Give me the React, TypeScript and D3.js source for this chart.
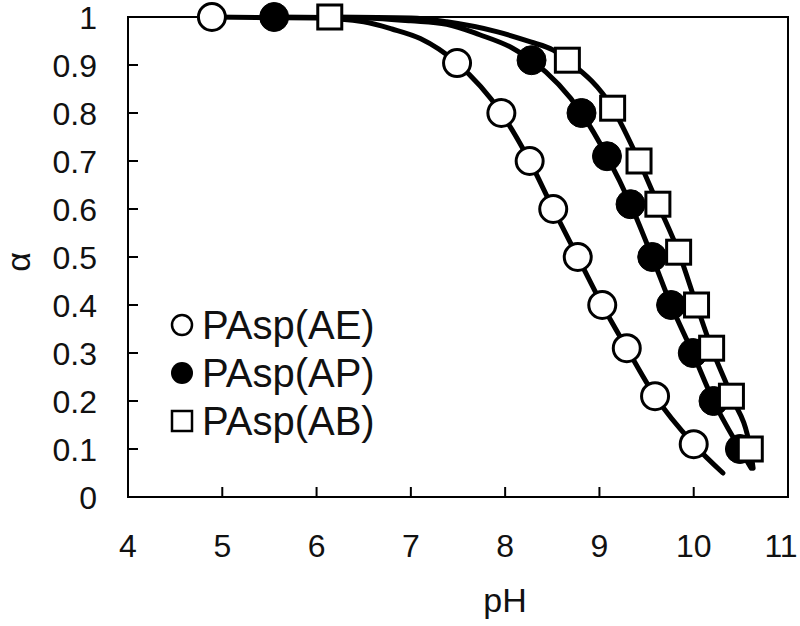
import React from "react";
import * as d3 from "d3";

// Measured points (pH, alpha)
const aePH = [4.89, 7.49, 7.96, 8.26, 8.51, 8.77, 9.03, 9.29, 9.59, 10.0];
const aeAlpha = [1.0, 0.904, 0.8, 0.7, 0.6, 0.5, 0.4, 0.31, 0.21, 0.11];
const apPH = [5.55, 8.28, 8.81, 9.08, 9.33, 9.56, 9.76, 9.99, 10.21, 10.49];
const apAlpha = [1.0, 0.91, 0.8, 0.71, 0.61, 0.5, 0.4, 0.3, 0.2, 0.1];
const abPH = [6.14, 8.66, 9.14, 9.42, 9.62, 9.84, 10.03, 10.19, 10.4, 10.6];
const abAlpha = [1.0, 0.91, 0.81, 0.7, 0.61, 0.51, 0.4, 0.31, 0.21, 0.1];

// Fitted curves
const aeCurvePH = [4.89, 6.0, 6.5, 6.8, 7.1, 7.49, 7.96, 8.26, 8.51, 8.77, 9.03, 9.29, 9.59, 10.0, 10.31];
const aeCurveAlpha = [1.0, 0.998, 0.99, 0.975, 0.955, 0.904, 0.8, 0.7, 0.6, 0.5, 0.4, 0.31, 0.21, 0.11, 0.05];
const apCurvePH = [5.55, 6.5, 7.0, 7.38, 7.73, 8.08, 8.28, 8.81, 9.08, 9.33, 9.56, 9.76, 9.99, 10.21, 10.49, 10.61];
const apCurveAlpha = [1.0, 0.998, 0.992, 0.985, 0.963, 0.935, 0.91, 0.8, 0.71, 0.61, 0.5, 0.4, 0.3, 0.2, 0.1, 0.06];
const abCurvePH = [6.14, 7.0, 7.38, 7.92, 8.27, 8.51, 8.66, 9.14, 9.42, 9.62, 9.84, 10.03, 10.19, 10.4, 10.6, 10.63];
const abCurveAlpha = [1.0, 0.998, 0.99, 0.969, 0.948, 0.931, 0.91, 0.81, 0.7, 0.61, 0.51, 0.4, 0.31, 0.21, 0.1, 0.06];

const xTicks = [4, 5, 6, 7, 8, 9, 10, 11];
const yTicks = [0, 0.1, 0.2, 0.3, 0.4, 0.5, 0.6, 0.7, 0.8, 0.9, 1];
const legendLabels = ["PAsp(AE)", "PAsp(AP)", "PAsp(AB)"];

const FONT = "'Liberation Sans', Arial, sans-serif";

export default function App() {
  const W = 800, H = 626;
  const L = 128, R = 788, T = 17, B = 497;
  const x = d3.scaleLinear().domain([4, 11]).range([L, R]);
  const y = d3.scaleLinear().domain([0, 1]).range([B, T]);

  const line = d3
    .line<[number, number]>()
    .x((d) => x(d[0]))
    .y((d) => y(d[1]))
    .curve(d3.curveMonotoneX);

  const zip = (a: number[], b: number[]) => a.map((v, i) => [v, b[i]] as [number, number]);

  const curves = [
    zip(aeCurvePH, aeCurveAlpha),
    zip(apCurvePH, apCurveAlpha),
    zip(abCurvePH, abCurveAlpha),
  ];
  const ae = zip(aePH, aeAlpha);
  const ap = zip(apPH, apAlpha);
  const ab = zip(abPH, abAlpha);

  const r = 13.5;
  const sq = 24;

  return (
    <svg width={W} height={H} style={{ display: "block", position: "absolute", left: 0, top: 0, background: "#fff" }}>
      <rect x={0} y={0} width={W} height={H} fill="#fff" />
      {/* frame */}
      <rect x={L} y={T} width={R - L} height={B - T} fill="none" stroke="#000" strokeWidth={2} />
      {/* ticks */}
      {yTicks.filter((t) => t > 0 && t < 1).map((t) => (
        <line key={"yt" + t} x1={L} x2={L + 10} y1={y(t)} y2={y(t)} stroke="#000" strokeWidth={2} />
      ))}
      {xTicks.filter((t) => t > 4 && t < 11).map((t) => (
        <line key={"xt" + t} x1={x(t)} x2={x(t)} y1={B} y2={B - 10} stroke="#000" strokeWidth={2} />
      ))}
      {/* tick labels */}
      {yTicks.map((t) => (
        <text key={"yl" + t} x={97} y={y(t)} dy="0.36em" textAnchor="end" fontFamily={FONT} fontSize={32} fill="#111">
          {String(t)}
        </text>
      ))}
      {xTicks.map((t) => (
        <text key={"xl" + t} x={t === 11 ? 781 : x(t)} y={545} dy="0.36em" textAnchor="middle" fontFamily={FONT} fontSize={32} fill="#111">
          {String(t)}
        </text>
      ))}
      {/* axis titles */}
      <text x={505} y={600} dy="0.36em" textAnchor="middle" fontFamily={FONT} fontSize={34} fill="#111">pH</text>
      <text transform={`translate(18,262) rotate(-90)`} textAnchor="middle" dy="0.36em" fontFamily={FONT} fontSize={34} fill="#111">α</text>

      {/* curves */}
      {curves.map((c, i) => (
        <path key={"c" + i} d={line(c) || ""} fill="none" stroke="#000" strokeWidth={5} strokeLinecap="round" />
      ))}

      {/* markers */}
      {ae.map((d, i) => (
        <circle key={"ae" + i} cx={x(d[0])} cy={y(d[1])} r={r} fill="#fff" stroke="#000" strokeWidth={3} />
      ))}
      {ap.map((d, i) => (
        <circle key={"ap" + i} cx={x(d[0])} cy={y(d[1])} r={r + 1} fill="#000" stroke="#000" strokeWidth={1} />
      ))}
      {ab.map((d, i) => (
        <rect key={"ab" + i} x={x(d[0]) - sq / 2} y={y(d[1]) - sq / 2} width={sq} height={sq} fill="#fff" stroke="#000" strokeWidth={3} />
      ))}

      {/* legend */}
      {legendLabels.map((lab, i) => {
        const cy = 325 + i * 48;
        const mx = 182;
        return (
          <g key={"lg" + i}>
            {i === 0 && <circle cx={mx} cy={cy} r={10} fill="#fff" stroke="#000" strokeWidth={2.5} />}
            {i === 1 && <circle cx={mx} cy={cy} r={11} fill="#000" />}
            {i === 2 && <rect x={mx - 10} y={cy - 10} width={20} height={20} fill="#fff" stroke="#000" strokeWidth={2.5} />}
            <text x={202} y={cy} dy="0.36em" fontFamily={FONT} fontSize={40} fill="#111">{lab}</text>
          </g>
        );
      })}
    </svg>
  );
}
